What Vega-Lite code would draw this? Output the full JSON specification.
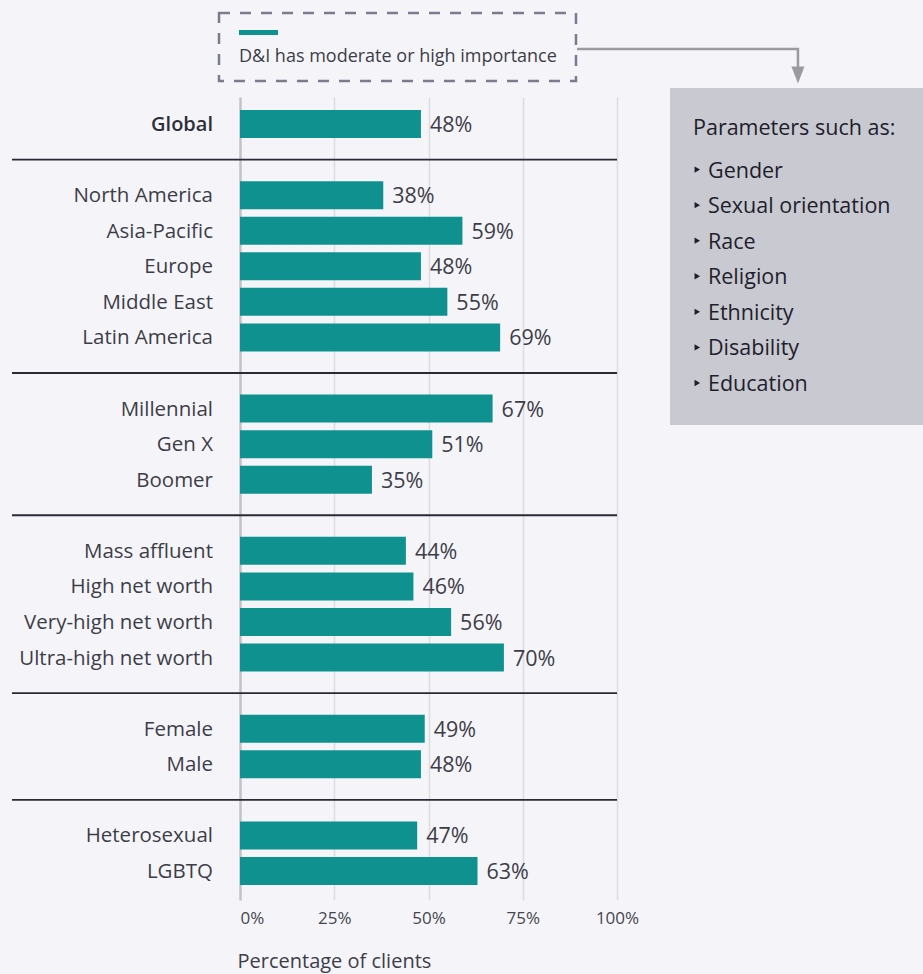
{
  "$schema": "https://vega.github.io/schema/vega-lite/v6.json",
  "autosize": {"type": "none"},
  "width": 377,
  "height": 803,
  "padding": {"left": 240, "top": 97, "right": 306, "bottom": 74},
  "background": "#f5f5f9",
  "config": {
    "view": {"stroke": null},
    "font": "Open Sans",
    "text": {"font": "Open Sans"}
  },
  "datasets": {
    "clients": [
      {"cat": "Global", "v": 48, "r": 0},
      {"cat": "North America", "v": 38, "r": 2},
      {"cat": "Asia-Pacific", "v": 59, "r": 3},
      {"cat": "Europe", "v": 48, "r": 4},
      {"cat": "Middle East", "v": 55, "r": 5},
      {"cat": "Latin America", "v": 69, "r": 6},
      {"cat": "Millennial", "v": 67, "r": 8},
      {"cat": "Gen X", "v": 51, "r": 9},
      {"cat": "Boomer", "v": 35, "r": 10},
      {"cat": "Mass affluent", "v": 44, "r": 12},
      {"cat": "High net worth", "v": 46, "r": 13},
      {"cat": "Very-high net worth", "v": 56, "r": 14},
      {"cat": "Ultra-high net worth", "v": 70, "r": 15},
      {"cat": "Female", "v": 49, "r": 17},
      {"cat": "Male", "v": 48, "r": 18},
      {"cat": "Heterosexual", "v": 47, "r": 20},
      {"cat": "LGBTQ", "v": 63, "r": 21}
    ],
    "separators": [{"r": 1}, {"r": 7}, {"r": 11}, {"r": 16}, {"r": 19}],
    "params": [
      {"item": "Gender", "r": 1},
      {"item": "Sexual orientation", "r": 2},
      {"item": "Race", "r": 3},
      {"item": "Religion", "r": 4},
      {"item": "Ethnicity", "r": 5},
      {"item": "Disability", "r": 6},
      {"item": "Education", "r": 7}
    ]
  },
  "layer": [
    {
      "data": {"values": [{"x": 114.06, "x2": 190, "y": -1.012, "y2": 8.462}]},
      "mark": {"type": "rect", "fill": "#c9c9d1"},
      "encoding": {
        "x": {"field": "x", "type": "quantitative", "scale": {"domain": [0, 100], "nice": false, "padding": 0}},
        "x2": {"field": "x2"},
        "y": {"field": "y", "type": "quantitative", "scale": {"domain": [-0.759, 21.816], "reverse": true, "nice": false, "padding": 0}, "axis": null},
        "y2": {"field": "y2"}
      }
    },
    {
      "data": {"values": [{"x": -5.57, "x2": 89.12, "y": -3.121, "y2": -1.209}]},
      "mark": {"type": "rect", "fill": "transparent", "stroke": "#7b7b8f", "strokeWidth": 2.5, "strokeDash": [11, 10]},
      "encoding": {
        "x": {"field": "x", "type": "quantitative"},
        "x2": {"field": "x2"},
        "y": {"field": "y", "type": "quantitative", "axis": null},
        "y2": {"field": "y2"}
      }
    },
    {
      "data": {"values": [{"x": -0.27, "x2": 10.08, "y": -2.572}]},
      "mark": {"type": "rule", "stroke": "#0f9190", "strokeWidth": 5},
      "encoding": {
        "x": {"field": "x", "type": "quantitative"},
        "x2": {"field": "x2"},
        "y": {"field": "y", "type": "quantitative", "axis": null}
      }
    },
    {
      "data": {"values": [{"label": "D&I has moderate or high importance", "x": -0.27, "y": -1.884}]},
      "mark": {"type": "text", "align": "left", "baseline": "middle", "fontSize": 18, "fill": "#3d3d48"},
      "encoding": {
        "x": {"field": "x", "type": "quantitative"},
        "y": {"field": "y", "type": "quantitative", "axis": null},
        "text": {"field": "label"}
      }
    },
    {
      "data": {"values": [{"o": 1, "x": 89.39, "y": -2.109}, {"o": 2, "x": 148.0, "y": -2.109}, {"o": 3, "x": 148.0, "y": -1.55}]},
      "mark": {"type": "line", "stroke": "#9a9aa0", "strokeWidth": 2.5, "strokeJoin": "miter", "strokeCap": "butt"},
      "encoding": {
        "x": {"field": "x", "type": "quantitative"},
        "y": {"field": "y", "type": "quantitative", "axis": null},
        "order": {"field": "o", "type": "quantitative"}
      }
    },
    {
      "data": {"values": [{"x": 148.0, "y": -1.378}]},
      "mark": {"type": "point", "shape": "M-1,-1.3L1,-1.3L0,1.3Z", "size": 169, "filled": true, "fill": "#9a9aa0", "opacity": 1, "strokeWidth": 0},
      "encoding": {
        "x": {"field": "x", "type": "quantitative"},
        "y": {"field": "y", "type": "quantitative", "axis": null}
      }
    },
    {
      "data": {"values": [{"label": "Parameters such as:", "x": 120.16, "y": 0.309}]},
      "mark": {"type": "text", "align": "left", "baseline": "alphabetic", "fontSize": 21.5, "fill": "#1e1e2c"},
      "encoding": {
        "x": {"field": "x", "type": "quantitative"},
        "y": {"field": "y", "type": "quantitative", "axis": null},
        "text": {"field": "label"}
      }
    },
    {
      "data": {"name": "params"},
      "mark": {"type": "point", "shape": "triangle-right", "size": 40, "filled": true, "fill": "#1e1e2c", "opacity": 1, "strokeWidth": 0, "yOffset": 10},
      "encoding": {
        "x": {"datum": 121.3, "type": "quantitative"},
        "y": {"field": "r", "type": "quantitative", "axis": null}
      }
    },
    {
      "data": {"name": "params"},
      "mark": {"type": "text", "align": "left", "baseline": "alphabetic", "fontSize": 21.5, "fill": "#1e1e2c", "dy": 18},
      "encoding": {
        "x": {"datum": 124.14, "type": "quantitative"},
        "y": {"field": "r", "type": "quantitative", "axis": null},
        "text": {"field": "item"}
      }
    },
    {
      "data": {"name": "separators"},
      "mark": {"type": "rule", "stroke": "#2a2a35", "strokeWidth": 1.8},
      "encoding": {
        "x": {"datum": -60.48, "type": "quantitative"},
        "x2": {"datum": 100},
        "y": {"field": "r", "type": "quantitative", "axis": null}
      }
    },
    {
      "data": {"name": "clients"},
      "mark": {"type": "bar", "orient": "horizontal", "height": 28, "fill": "#0f9190"},
      "encoding": {
        "x": {
          "field": "v",
          "type": "quantitative",
          "axis": {
            "values": [0, 25, 50, 75, 100],
            "labelExpr": "datum.value + '%'",
            "domain": false,
            "ticks": false,
            "tickSize": 0,
            "labelPadding": 10,
            "labelFontSize": 17,
            "labelColor": "#45454f",
            "labelFont": "Open Sans",
            "labelAlign": {"condition": {"test": "datum.value === 0", "value": "left"}, "value": "center"},
            "grid": true,
            "gridColor": {"condition": {"test": "datum.value === 0", "value": "#c2c2ca"}, "value": "#dcdce2"},
            "gridWidth": {"condition": {"test": "datum.value === 0", "value": 2.5}, "value": 1.5},
            "title": "Percentage of clients",
            "titleFont": "Open Sans",
            "titleFontSize": 20,
            "titleFontWeight": "normal",
            "titleColor": "#3d3d48",
            "titleAnchor": "start",
            "titleAlign": "left",
            "titleBaseline": "top",
            "titleX": -3,
            "titleY": 51
          }
        },
        "y": {"field": "r", "type": "quantitative", "axis": null}
      }
    },
    {
      "data": {"name": "clients"},
      "transform": [{"calculate": "datum.v + '%'", "as": "label"}],
      "mark": {"type": "text", "align": "left", "baseline": "middle", "dx": 9, "dy": 2, "fontSize": 21.5, "fill": "#3d3d48"},
      "encoding": {
        "x": {"field": "v", "type": "quantitative"},
        "y": {"field": "r", "type": "quantitative", "axis": null},
        "text": {"field": "label"}
      }
    },
    {
      "data": {"name": "clients"},
      "transform": [{"filter": "datum.cat !== 'Global'"}],
      "mark": {"type": "text", "align": "right", "baseline": "middle", "dx": -27, "dy": 1, "fontSize": 20.5, "fill": "#3d3d48"},
      "encoding": {
        "x": {"datum": 0, "type": "quantitative"},
        "y": {"field": "r", "type": "quantitative", "axis": null},
        "text": {"field": "cat"}
      }
    },
    {
      "data": {"name": "clients"},
      "transform": [{"filter": "datum.cat === 'Global'"}],
      "mark": {"type": "text", "align": "right", "baseline": "middle", "dx": -27, "dy": 1, "fontSize": 20, "fontWeight": 600, "fill": "#2e2e38"},
      "encoding": {
        "x": {"datum": 0, "type": "quantitative"},
        "y": {"field": "r", "type": "quantitative", "axis": null},
        "text": {"field": "cat"}
      }
    }
  ]
}
